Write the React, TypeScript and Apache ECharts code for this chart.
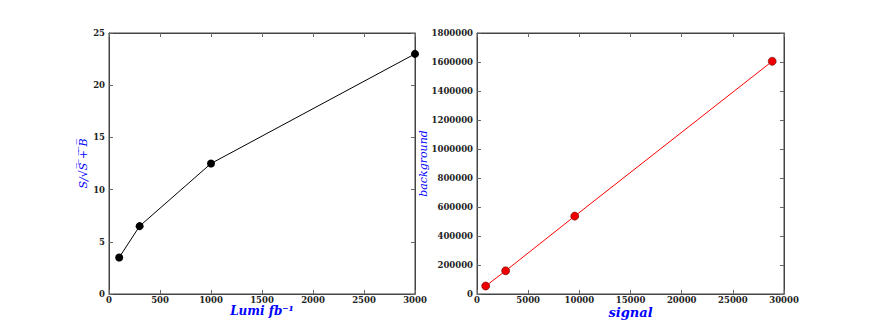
import React, { useEffect, useRef } from "react";
import * as echarts from "echarts";

const lumi = [100, 300, 1000, 3000];
const significance = [3.5, 6.5, 12.5, 23];
const signal = [850, 2800, 9550, 28850];
const background = [55000, 160000, 537000, 1605000];

const tickFont = { fontFamily: "DejaVu Serif", fontWeight: "bold" as const, fontSize: 8.5, color: "#222" };
const nameFont = { fontFamily: "DejaVu Serif", fontStyle: "italic" as const, color: "#0000ff" };
const lineCol = "#444";

function axisCommon(show: boolean, margin = 4) {
  return {
    axisLine: { show: true, onZero: false, lineStyle: { color: lineCol, width: 1 } },
    axisTick: { show: true, inside: true, length: 4, lineStyle: { color: "#666" } },
    axisLabel: show ? { ...tickFont, margin, formatter: (v: number) => String(v) } : { show: false },
    splitLine: { show: false },
  };
}

export default function App() {
  const ref = useRef<HTMLDivElement>(null);
  useEffect(() => {
    const chart = echarts.init(ref.current!, undefined, { renderer: "svg" });
    chart.setOption({
      animation: false,
      backgroundColor: "#fff",
      grid: [
        { left: 101, top: 25, width: 306, height: 261, show: true, borderColor: lineCol, borderWidth: 1, outerBoundsMode: "none", containLabel: false },
        { left: 469, top: 25, width: 307, height: 261, show: true, borderColor: lineCol, borderWidth: 1, outerBoundsMode: "none", containLabel: false },
      ],
      xAxis: [
        {
          gridIndex: 0, type: "value", min: 0, max: 3000, interval: 500, position: "bottom",
          name: "Lumi fb\u207B\u00B9", nameLocation: "middle", nameGap: 11, nameMoveOverlap: false,
          nameTextStyle: { ...nameFont, fontWeight: "bold", fontSize: 12 },
          ...axisCommon(true, 1),
        },
        { gridIndex: 0, type: "value", min: 0, max: 3000, interval: 500, position: "top", ...axisCommon(false) },
        {
          gridIndex: 1, type: "value", min: 0, max: 30000, interval: 5000, position: "bottom",
          name: "signal", nameLocation: "middle", nameGap: 12, nameMoveOverlap: false,
          nameTextStyle: { ...nameFont, fontWeight: "bold", fontSize: 13 },
          ...axisCommon(true, 1),
        },
        { gridIndex: 1, type: "value", min: 0, max: 30000, interval: 5000, position: "top", ...axisCommon(false) },
      ],
      yAxis: [
        {
          gridIndex: 0, type: "value", min: 0, max: 25, interval: 5, position: "left",
          name: "S/\u221AS\u0305 \u0305+\u0305 \u0305B\u0305", nameLocation: "middle", nameGap: 20, nameMoveOverlap: false,
          nameTextStyle: { ...nameFont, fontSize: 11 },
          ...axisCommon(true),
        },
        { gridIndex: 0, type: "value", min: 0, max: 25, interval: 5, position: "right", ...axisCommon(false) },
        {
          gridIndex: 1, type: "value", min: 0, max: 1800000, interval: 200000, position: "left",
          name: "background", nameLocation: "middle", nameGap: 48, nameMoveOverlap: false,
          nameTextStyle: { ...nameFont, fontSize: 11 },
          ...axisCommon(true),
        },
        { gridIndex: 1, type: "value", min: 0, max: 1800000, interval: 200000, position: "right", ...axisCommon(false) },
      ],
      series: [
        {
          type: "line", xAxisIndex: 0, yAxisIndex: 0,
          data: lumi.map((x, i) => [x, significance[i]]),
          lineStyle: { color: "#000", width: 1 },
          itemStyle: { color: "#000" },
          symbol: "circle", symbolSize: 8,
        },
        {
          type: "line", xAxisIndex: 2, yAxisIndex: 2,
          data: signal.map((x, i) => [x, background[i]]),
          lineStyle: { color: "#ff0000", width: 1 },
          itemStyle: { color: "#ee0000", borderColor: "#660000", borderWidth: 0.6 },
          symbol: "circle", symbolSize: 8,
        },
      ],
    });
    return () => chart.dispose();
  }, []);
  return <div ref={ref} style={{ width: 856, height: 319 }} />;
}
